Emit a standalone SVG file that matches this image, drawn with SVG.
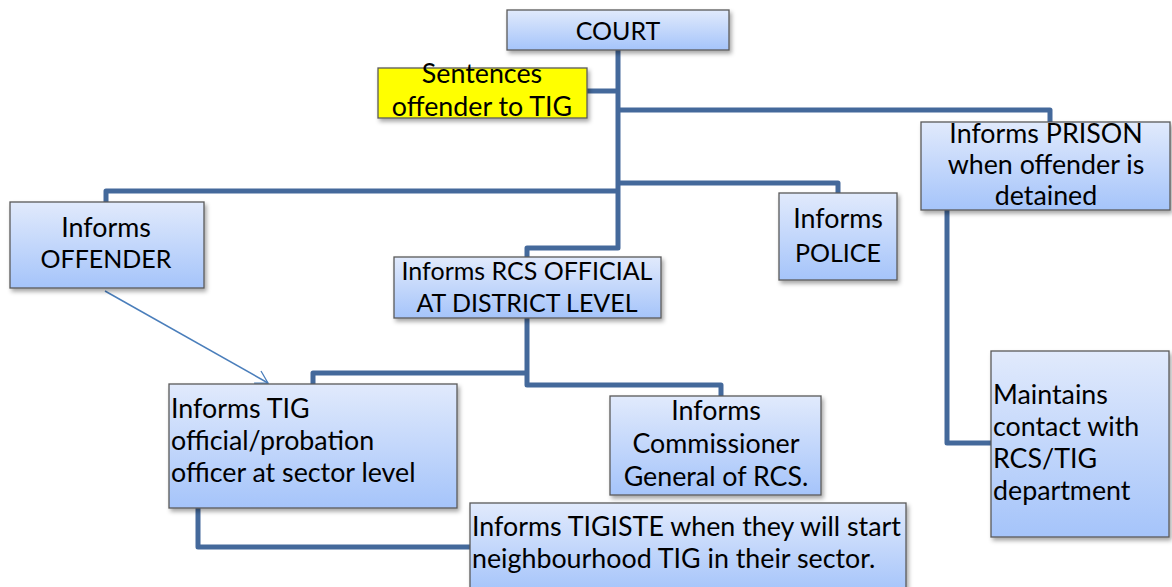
<svg xmlns="http://www.w3.org/2000/svg" width="1172" height="587" viewBox="0 0 1172 587">
<defs>
<linearGradient id="bg" x1="0" y1="0" x2="0" y2="1">
<stop offset="0" stop-color="#e1eafc"/>
<stop offset="1" stop-color="#a5c4fa"/>
</linearGradient>
<filter id="sh" x="-10%" y="-10%" width="130%" height="140%">
<feDropShadow dx="2" dy="3" stdDeviation="2" flood-color="#000" flood-opacity="0.35"/>
</filter>
<marker id="ah" markerWidth="16" markerHeight="16" refX="13" refY="8" orient="auto" markerUnits="userSpaceOnUse">
<path d="M1,1 L13,8 L1,15" fill="none" stroke="#4a7ebb" stroke-width="1.3"/>
</marker>
<style>
.box{fill:url(#bg);stroke:#595959;stroke-width:1.3;filter:url(#sh)}
.yel{fill:#ffff00;stroke:#595959;stroke-width:1.3;filter:url(#sh)}
.t{font-family:Lato,"Liberation Sans",sans-serif;font-size:26.8px;fill:#000}
.k{font-size:25px}
.c{text-anchor:middle}
.con{fill:none;stroke:#44699b;stroke-width:5;stroke-linejoin:round}
</style>
</defs>
<rect width="1172" height="587" fill="#fff"/>
<g id="connectors">
<path class="con" d="M618,50 V248 H527 V258"/>
<path class="con" d="M618,91 H587"/>
<path class="con" d="M618,110 H1050 V122"/>
<path class="con" d="M618,183 H838 V193"/>
<path class="con" d="M618,191 H106 V202"/>
<path class="con" d="M527,318 V385 H721 V397"/>
<path class="con" d="M527,373 H313 V384"/>
<path class="con" d="M198,508 V547 H470"/>
<path class="con" d="M947,210 V443 H991"/>
<line x1="105" y1="291" x2="268" y2="383" stroke="#4a7ebb" stroke-width="1.5" marker-end="url(#ah)"/>
</g>
<g id="court"><rect class="box" x="507" y="10" width="222" height="40"/><text class="t k c" x="618" y="40">COURT</text></g>
<g id="sentences"><rect class="yel" x="378" y="68" width="209" height="50"/><text class="t c" x="482" y="83">Sentences</text><text class="t c" x="482" y="116">offender to TIG</text></g>
<g id="offender"><rect class="box" x="10" y="202" width="194" height="86"/><text class="t c" x="106" y="237">Informs</text><text class="t k c" x="106" y="268">OFFENDER</text></g>
<g id="rcs"><rect class="box" x="394" y="257" width="267" height="61"/><text class="t k c" x="527" y="280">Informs RCS OFFICIAL</text><text class="t k c" x="527" y="312">AT DISTRICT LEVEL</text></g>
<g id="police"><rect class="box" x="779" y="193" width="118" height="87"/><text class="t c" x="838" y="228">Informs</text><text class="t k c" x="838" y="262">POLICE</text></g>
<g id="prison"><rect class="box" x="921" y="122" width="249" height="88"/><text class="t c" x="1046" y="143">Informs PRISON</text><text class="t c" x="1046" y="174">when offender is</text><text class="t c" x="1046" y="205">detained</text></g>
<g id="tig"><rect class="box" x="169" y="384" width="288" height="124"/><text class="t" x="171" y="418">Informs TIG</text><text class="t" x="171" y="450">official/probation</text><text class="t" x="171" y="482">officer at sector level</text></g>
<g id="commissioner"><rect class="box" x="610" y="396" width="211" height="99"/><text class="t c" x="716" y="420">Informs</text><text class="t c" x="716" y="453">Commissioner</text><text class="t c" x="716" y="486">General of RCS.</text></g>
<g id="tigiste"><rect class="box" x="470" y="503" width="436" height="90"/><text class="t" x="472" y="536">Informs TIGISTE when they will start</text><text class="t" x="472" y="568">neighbourhood TIG in their sector.</text></g>
<g id="maintains"><rect class="box" x="991" y="351" width="178" height="186"/><text class="t" x="993" y="404">Maintains</text><text class="t" x="993" y="436">contact with</text><text class="t" x="993" y="468">RCS/TIG</text><text class="t" x="993" y="500">department</text></g>
</svg>
